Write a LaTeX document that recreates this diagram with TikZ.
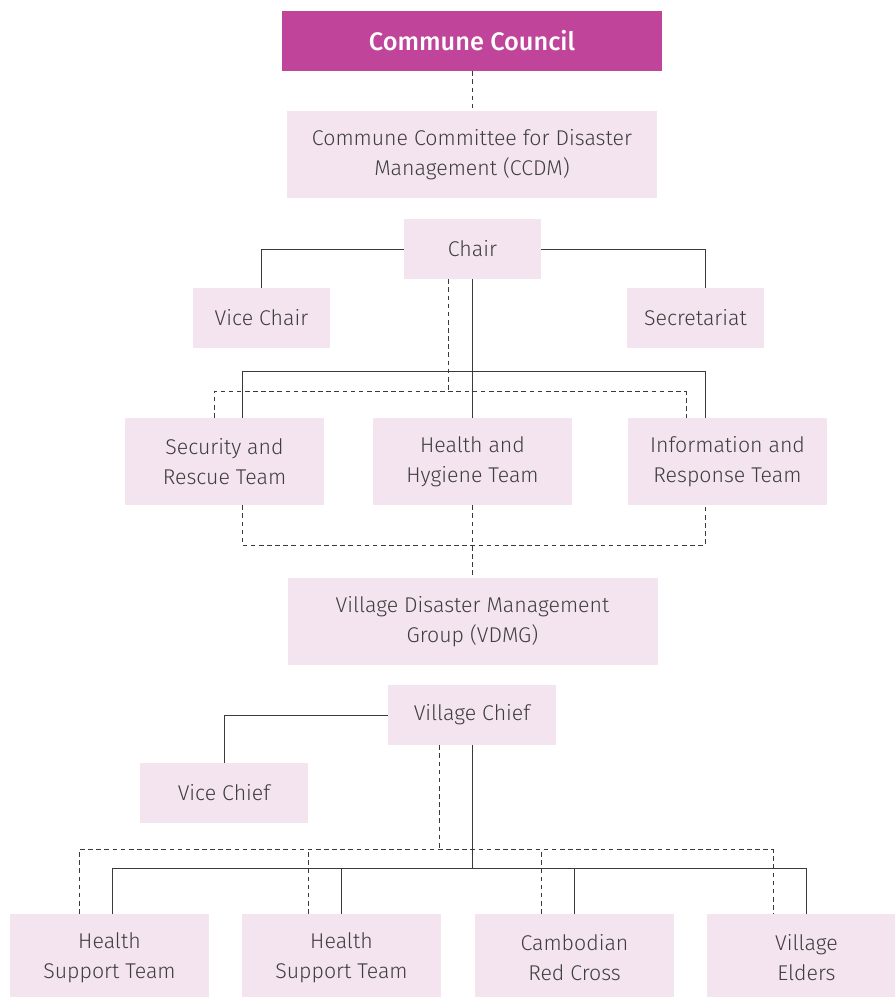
\documentclass[tikz,border=0pt]{standalone}
\usepackage{fontspec}
\setmainfont{Fira Sans Light}[BoldFont=Fira Sans Medium]
\usetikzlibrary{calc}
\definecolor{council}{HTML}{C0449A}
\definecolor{boxpink}{HTML}{F4E4EF}
\definecolor{txtgray}{HTML}{3E3E3E}
\definecolor{linegray}{HTML}{3A3A3A}
\begin{document}
\begin{tikzpicture}[x=0.75pt, y=-0.75pt,
    box/.style={fill=boxpink, text=txtgray, align=center, inner sep=0pt,
        font=\fontsize{16}{22.5}\selectfont},
    widebox/.style={box, minimum width=277.5pt, minimum height=65.25pt},
    teambox/.style={box, minimum width=149.25pt, minimum height=65.25pt},
    smallbox/.style={box, minimum width=102.75pt, minimum height=45pt},
    chiefbox/.style={box, minimum width=126pt, minimum height=45pt},
    link/.style={draw=linegray, line width=0.75pt},
    dlink/.style={draw=linegray, line width=0.75pt, dash pattern=on 3.5pt off 2.6pt}]
    \useasboundingbox (0,0) rectangle (895,997);

    % Commune level
    \node[box, fill=council, text=white, minimum width=285pt, minimum height=45pt,
        font=\fontsize{19}{22}\selectfont\bfseries] (council) at (472,41) {Commune Council};
    \node[widebox] (ccdm) at (472,154.5) {Commune Committee for Disaster\\Management (CCDM)};
    \draw[dlink] (council.south) -- (ccdm.north);

    % Chair, vice chair and secretariat
    \node[smallbox] (chair) at (472.5,249) {Chair};
    \node[smallbox] (vicechair) at (261.5,318) {Vice Chair};
    \node[smallbox] (secretariat) at (695.5,318) {Secretariat};
    \draw[link] (chair.west) -| (vicechair.north);
    \draw[link] (chair.east) -| ($(secretariat.north)+(9.5,0)$);

    % Teams
    \node[teambox] (security) at (224.5,461.5) {Security and\\Rescue Team};
    \node[teambox] (hygiene) at (472.5,461.5) {Health and\\Hygiene Team};
    \node[teambox] (info) at (727.5,461.5) {Information and\\Response Team};
    \draw[link] (chair.south) -- (hygiene.north);
    \draw[link] ($(security.north)+(17.5,0)$) |- ($(info.north)+(-22.5,-46)$) -- ($(info.north)+(-22.5,0)$);
    \draw[dlink] ($(chair.south)+(-24.5,0)$) -- ++(0,113);
    \draw[dlink] ($(security.north)+(-10.5,0)$) |- ($(info.north)+(-41.5,-26)$) -- ($(info.north)+(-41.5,0)$);
    \draw[dlink] ($(security.south)+(17.5,0)$) |- ($(info.south)+(-22.5,40)$) -- ($(info.south)+(-22.5,0)$);

    % Village level
    \node[widebox] (vdmg) at (472.5,621.5) {Village Disaster Management\\Group (VDMG)};
    \draw[dlink] (hygiene.south) -- (vdmg.north);
    \node[chiefbox] (vchief) at (472,715) {Village Chief};
    \node[chiefbox] (vicechief) at (224,793) {Vice Chief};
    \draw[link] (vchief.west) -| (vicechief.north);

    % Village groups
    \node[teambox] (hst1) at (109.5,957.5) {Health\\Support Team};
    \node[teambox] (hst2) at (341.5,957.5) {Health\\Support Team};
    \node[teambox] (redcross) at (574.5,957.5) {Cambodian\\Red Cross};
    \node[teambox] (elders) at (806.5,957.5) {Village\\Elders};
    \draw[link] (vchief.south) -- ++(0,124);
    \draw[link] ($(hst1.north)+(2.5,0)$) |- ($(elders.north)+(0,-45)$) -- (elders.north);
    \foreach \grp in {hst2, redcross}
        \draw[link] (\grp.north) -- ++(0,-45);
    \draw[dlink] ($(vchief.south)+(-33,0)$) -- ++(0,105);
    \draw[dlink] ($(hst1.north)+(-30.5,0)$) |- ($(elders.north)+(-33.5,-64)$) -- ($(elders.north)+(-33.5,0)$);
    \foreach \grp in {hst2, redcross}
        \draw[dlink] ($(\grp.north)+(-33,0)$) -- ++(0,-64);
\end{tikzpicture}
\end{document}
